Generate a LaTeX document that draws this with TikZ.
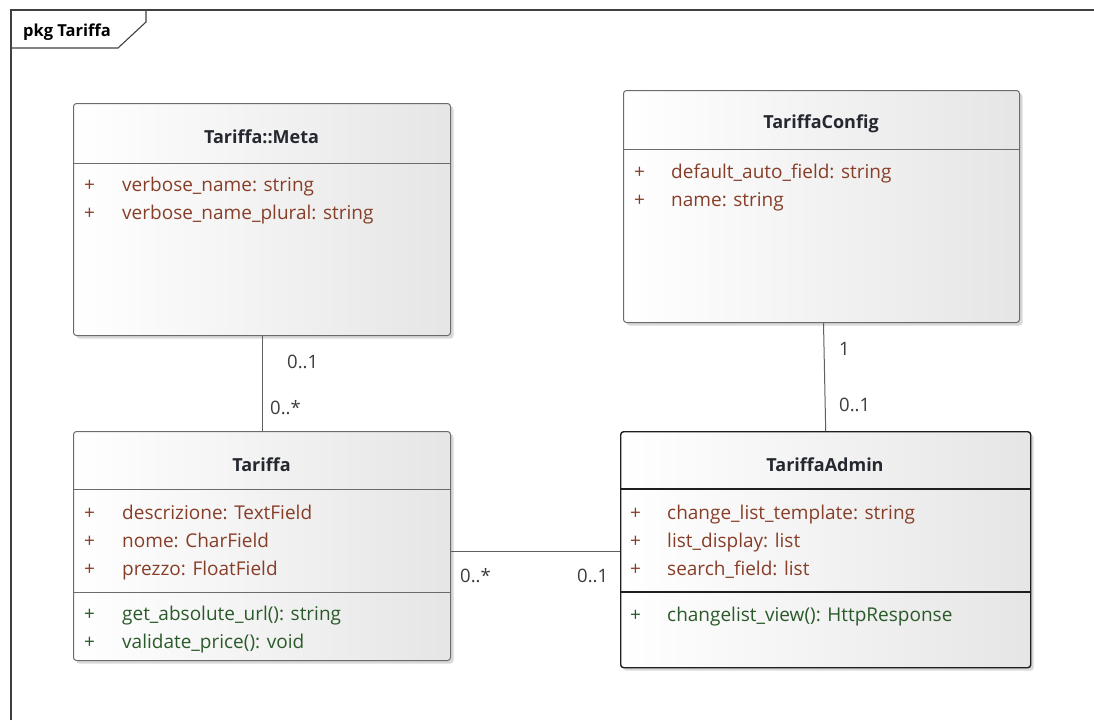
\documentclass[tikz,border=0pt]{standalone}
\usepackage{fontspec}
\setmainfont{Open Sans}
\usetikzlibrary{shadows,calc}
\definecolor{attr}{RGB}{135,62,40}
\definecolor{oper}{RGB}{42,90,42}
\definecolor{ttl}{RGB}{38,40,48}
\definecolor{edgec}{RGB}{95,95,95}
\definecolor{mult}{RGB}{60,60,60}
\begin{document}
\begin{tikzpicture}[x=1pt,y=-1pt,
  classbox/.style={draw=black!58, line width=1pt, rounded corners=3pt,
    left color=white, right color=black!10, inner sep=0pt,
    drop shadow={shadow xshift=3pt, shadow yshift=-3pt, fill=black!25, opacity=0.6}},
  selbox/.style={classbox, draw=black!88, line width=1.4pt},
  ttlfont/.style={font=\fontsize{18}{21}\selectfont\bfseries, text=ttl},
  attrtxt/.style={anchor=base west, inner sep=0pt, font=\fontsize{19}{22}\selectfont, text=attr},
  opertxt/.style={anchor=base west, inner sep=0pt, font=\fontsize{19}{22}\selectfont, text=oper},
  multtxt/.style={anchor=base west, inner sep=0pt, font=\fontsize{18.5}{22}\selectfont, text=mult},
  sep/.style={draw=black!58, line width=1pt},
  selsep/.style={draw=black!88, line width=1.3pt},
  conn/.style={draw=edgec, line width=1pt}]
\useasboundingbox (0,0) rectangle (1094,720);
% package frame
\draw[black!75, line width=1.1pt] (11,720) -- (11,10) -- (1094,10);
\draw[black!75, line width=1.1pt] (11,48) -- (118,48) -- (146,22) -- (146,10);
\node[anchor=base west, inner sep=0pt, font=\fontsize{16.5}{19}\selectfont\bfseries] (pkg) at (23,36) {pkg Tariffa};

% classes
\node[classbox, anchor=north west, minimum width=377pt, minimum height=232pt] (meta) at (73,103) {};
\node[classbox, anchor=north west, minimum width=396pt, minimum height=232pt] (config) at (623,90) {};
\node[classbox, anchor=north west, minimum width=377pt, minimum height=229pt] (tariffa) at (73,431) {};
\node[selbox, anchor=north west, minimum width=410pt, minimum height=236pt] (admin) at (620,431) {};

% separators
\draw[sep] (meta.west |- 0,163) -- (meta.east |- 0,163);
\draw[sep] (config.west |- 0,149) -- (config.east |- 0,149);
\draw[sep] (tariffa.west |- 0,489) -- (tariffa.east |- 0,489);
\draw[sep] (tariffa.west |- 0,592) -- (tariffa.east |- 0,592);
\draw[selsep] (admin.west |- 0,489) -- (admin.east |- 0,489);
\draw[selsep] (admin.west |- 0,592) -- (admin.east |- 0,592);

% titles
\node[ttlfont] (metat) at (261.5,137) {Tariffa::Meta};
\node[ttlfont] (configt) at (821,124) {TariffaConfig};
\node[ttlfont] (tariffat) at (261.5,465) {Tariffa};
\node[ttlfont] (admint) at (825,465) {TariffaAdmin};

% Meta attributes
\node[attrtxt] (m1p) at (84,191) {+};
\node[attrtxt] (m1) at (122,191) {verbose\_name: string};
\node[attrtxt] (m2p) at (84,219) {+};
\node[attrtxt] (m2) at (122,219) {verbose\_name\_plural: string};

% Config attributes
\node[attrtxt] (c1p) at (634,178) {+};
\node[attrtxt] (c1) at (671,178) {default\_auto\_field: string};
\node[attrtxt] (c2p) at (634,206) {+};
\node[attrtxt] (c2) at (671,206) {name: string};

% Tariffa attributes & operations
\node[attrtxt] (t1p) at (84,519) {+};
\node[attrtxt] (t1) at (122,519) {descrizione: TextField};
\node[attrtxt] (t2p) at (84,547) {+};
\node[attrtxt] (t2) at (122,547) {nome: CharField};
\node[attrtxt] (t3p) at (84,575) {+};
\node[attrtxt] (t3) at (122,575) {prezzo: FloatField};
\node[opertxt] (o1p) at (84,620) {+};
\node[opertxt] (o1) at (122,620) {get\_absolute\_url(): string};
\node[opertxt] (o2p) at (84,648) {+};
\node[opertxt] (o2) at (122,648) {validate\_price(): void};

% Admin attributes & operations
\node[attrtxt] (a1p) at (630,519) {+};
\node[attrtxt] (a1) at (667,519) {change\_list\_template: string};
\node[attrtxt] (a2p) at (630,547) {+};
\node[attrtxt] (a2) at (667,547) {list\_display: list};
\node[attrtxt] (a3p) at (630,575) {+};
\node[attrtxt] (a3) at (667,575) {search\_field: list};
\node[opertxt] (ao1p) at (630,621) {+};
\node[opertxt] (ao1) at (667,621) {changelist\_view(): HttpResponse};

% connectors
\draw[conn] (meta.south) -- (tariffa.north);
\draw[conn] ($(config.south)+(2,0)$) -- ($(admin.north)$);
\coordinate (tr) at ($(tariffa.east)+(0,5.5)$);
\draw[conn] (tr) -- (tr -| admin.west);

% multiplicities
\node[multtxt] (l1) at (287,368) {0..1};
\node[multtxt] (l2) at (270,414) {0..*};
\node[multtxt] (l3) at (839,355) {1};
\node[multtxt] (l4) at (839,411) {0..1};
\node[multtxt] (l5) at (460,582) {0..*};
\node[multtxt] (l6) at (577,582) {0..1};
\end{tikzpicture}
\end{document}
